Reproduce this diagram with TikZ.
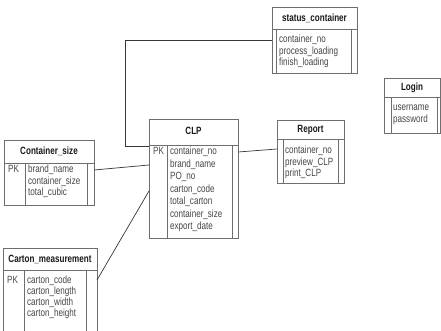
\documentclass[tikz,border=0pt]{standalone}
\usepackage{fontspec}
\setmainfont{Liberation Sans}[FakeStretch=0.77]
\definecolor{boxline}{RGB}{110,110,110}
\definecolor{connline}{RGB}{55,55,55}
\definecolor{fieldtext}{RGB}{70,70,70}
\definecolor{headtext}{RGB}{25,25,25}
\tikzset{
  tbl/.style={draw=boxline, line width=0.8pt, inner sep=0pt, outer sep=0pt, anchor=north west},
  tblline/.style={draw=boxline, line width=0.8pt},
  hdr/.style={font=\bfseries\fontsize{10.5}{12}\selectfont, text=headtext, inner sep=0pt},
  fld/.style={font=\fontsize{10.5}{12}\selectfont, text=fieldtext, inner sep=0pt, anchor=west, text height=7.5pt, text depth=2pt},
  conn/.style={draw=connline, line width=0.7pt}
}
% table: name, left, top, width, height, header line y, key column x, right column x
\newcommand\erdtable[8]{%
  \node[tbl, minimum width=#4pt, minimum height=#5pt] (#1) at (#2,#3) {};
  \draw[tblline] (#1.west |- 0,#6) -- (#1.east |- 0,#6)
    (#7,#6) -- (#1.south -| #7,0) (#8,#6) -- (#1.south -| #8,0);
}
\begin{document}
\begin{tikzpicture}[x=1pt,y=-1pt]
\useasboundingbox (0,0) rectangle (441,330);
\clip (0,0) rectangle (441,330);
\fill[white] (0,0) rectangle (441,330);

% status_container
\erdtable{status}{272}{7}{85}{66}{29}{276}{351}
\node[hdr] (status-h) at (314.5,18) {status\_container};
\node[fld] (status-1) at (279,40) {container\_no};
\node[fld] (status-2) at (279,51.5) {process\_loading};
\node[fld] (status-3) at (279,63) {finish\_loading};

% Login
\erdtable{login}{384}{78}{56}{55}{97}{391}{437}
\node[hdr] (login-h) at (412,88) {Login};
\node[fld] (login-1) at (393,108) {username};
\node[fld] (login-2) at (393,120) {password};

% CLP
\erdtable{clp}{149}{119}{89}{119}{145}{167}{232}
\node[hdr] (clp-h) at (193.5,131) {CLP};
\node[fld] (clp-pk) at (153,152) {PK};
\node[fld] (clp-1) at (170,152) {container\_no};
\node[fld] (clp-2) at (170,164.5) {brand\_name};
\node[fld] (clp-3) at (170,177) {PO\_no};
\node[fld] (clp-4) at (170,189.5) {carton\_code};
\node[fld] (clp-5) at (170,202) {total\_carton};
\node[fld] (clp-6) at (170,214.5) {container\_size};
\node[fld] (clp-7) at (170,227) {export\_date};

% Report
\erdtable{report}{277}{120}{67}{63}{139}{283}{338}
\node[hdr] (report-h) at (310.5,129.5) {Report};
\node[fld] (report-1) at (285,151) {container\_no};
\node[fld] (report-2) at (285,162.5) {preview\_CLP};
\node[fld] (report-3) at (285,174) {print\_CLP};

% Container_size
\erdtable{csize}{4}{140}{90}{65}{163}{25}{87}
\node[hdr] (csize-h) at (49,151) {Container\_size};
\node[fld] (csize-pk) at (8,170) {PK};
\node[fld] (csize-1) at (28,170) {brand\_name};
\node[fld] (csize-2) at (28,181.5) {container\_size};
\node[fld] (csize-3) at (28,193) {total\_cubic};

% Carton_measurement
\erdtable{carton}{3}{248}{94}{90}{270}{24}{86}
\node[hdr] (carton-h) at (50,259) {Carton\_measurement};
\node[fld] (carton-pk) at (7,281) {PK};
\node[fld] (carton-1) at (27,281) {carton\_code};
\node[fld] (carton-2) at (27,292) {carton\_length};
\node[fld] (carton-3) at (27,303) {carton\_width};
\node[fld] (carton-4) at (27,314) {carton\_height};

% relationships
\coordinate (bend) at (125,146);
\draw[conn] (status.west) -| (bend) -- (clp.west |- bend);
\draw[conn] (csize.east |- 0,170) -- (clp.west |- 0,165);
\draw[conn] (carton.east |- 0,280) -- (clp.west |- 0,191);
\draw[conn] (clp.east |- 0,152) -- (report.west |- 0,149);
\end{tikzpicture}
\end{document}
